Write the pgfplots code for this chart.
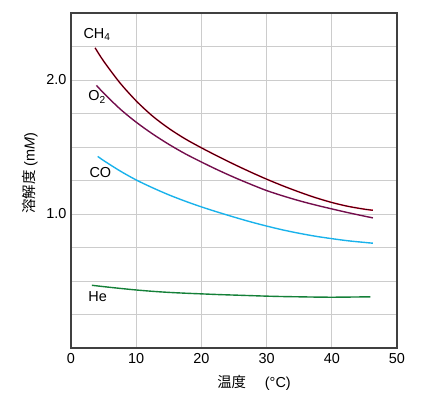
\documentclass[border=0pt]{standalone}
\usepackage{pgfplots}
\pgfplotsset{compat=1.18}
\usetikzlibrary{calc}
\usepackage{fontspec}
\setmainfont{Liberation Sans}
\newfontfamily\cjk{Noto Sans CJK JP}
\definecolor{ch4}{rgb}{0.85,0.05,0.20}
\definecolor{otwo}{rgb}{0.45,0.05,0.30}
\definecolor{co}{rgb}{0.10,0.70,0.92}
\definecolor{he}{rgb}{0.08,0.50,0.22}
\newcommand{\lf}{\fontsize{14.5}{16}\selectfont}
\pgfplotstableread{
x y
3.7 2.240
5 2.141
7.5 1.979
10 1.844
12.5 1.731
15 1.639
17.5 1.561
20 1.494
22.5 1.431
25 1.371
27.5 1.314
30 1.260
32.5 1.210
35 1.164
37.5 1.122
40 1.086
42.5 1.057
45 1.036
46.3 1.028
}\methane
\pgfplotstableread{
x y
3.9 1.960
5 1.903
7.5 1.785
10 1.685
12.5 1.598
15 1.520
17.5 1.450
20 1.388
22.5 1.329
25 1.274
27.5 1.223
30 1.175
32.5 1.135
35 1.099
37.5 1.067
40 1.038
42.5 1.010
45 0.984
46.3 0.971
}\oxygen
\pgfplotstableread{
x y
4.1 1.430
5 1.399
7.5 1.322
10 1.254
12.5 1.196
15 1.143
17.5 1.096
20 1.053
22.5 1.014
25 0.977
27.5 0.942
30 0.910
32.5 0.881
35 0.856
37.5 0.834
40 0.816
42.5 0.800
45 0.788
46.3 0.782
}\carbonmonoxide
\pgfplotstableread{
x y
3.2 0.468
5 0.458
7.5 0.445
10 0.433
12.5 0.423
15 0.415
17.5 0.409
20 0.404
22.5 0.399
25 0.395
27.5 0.391
30 0.387
32.5 0.384
35 0.382
37.5 0.380
40 0.379
42.5 0.380
45.9 0.382
}\helium
\begin{document}
\begin{tikzpicture}
\begin{axis}[
  scale only axis, width=326bp, height=335bp,
  xmin=0, xmax=50, ymin=0, ymax=2.5,
  xtick={0,10,20,30,40,50},
  ytick={0,0.25,0.5,0.75,1,1.25,1.5,1.75,2,2.25,2.5},
  yticklabels={,,,,1.0,,,,2.0,,},
  grid=major, major grid style={draw=black!20, line width=0.8pt},
  axis line style={draw=black!75, line width=1.1pt},
  tick style={draw=none},
  /pgf/number format/assume math mode=true,
  ticklabel style={font=\lf},
  xticklabel style={yshift=-2pt},
  yticklabel style={xshift=-1pt},
  clip=false,
]
\addplot[ch4, line width=1.5pt, smooth] table {\methane};
\addplot[black, line width=0.55pt, smooth] table {\methane};
\addplot[otwo, line width=1.4pt, smooth] table {\oxygen};
\addplot[co, line width=1.4pt, smooth] table {\carbonmonoxide};
\addplot[he, line width=1.4pt, smooth] table {\helium};
\node[anchor=base west, font=\lf, inner sep=0pt] at (axis cs:1.89,2.311) {CH\textsubscript{4}};
\node[anchor=base west, font=\lf, inner sep=0pt] at (axis cs:2.65,1.844) {O\textsubscript{2}};
\node[anchor=base west, font=\lf, inner sep=0pt] at (axis cs:2.81,1.271) {CO};
\node[anchor=base west, font=\lf, inner sep=0pt] at (axis cs:2.65,0.349) {He};
\end{axis}
\path (current axis.south west) ++(-71bp,-47bp) coordinate (bl) rectangle ++(441bp,395bp);
\node[font=\lf, anchor=center] at ($(bl)+(254bp,12bp)$) {{\cjk 温度}\hspace{1.3em}(°C)};
\node[font=\lf, anchor=center, rotate=90] at ($(bl)+(30bp,222bp)$) {{\cjk 溶解度} (m\textit{M})};
\end{tikzpicture}
\end{document}
